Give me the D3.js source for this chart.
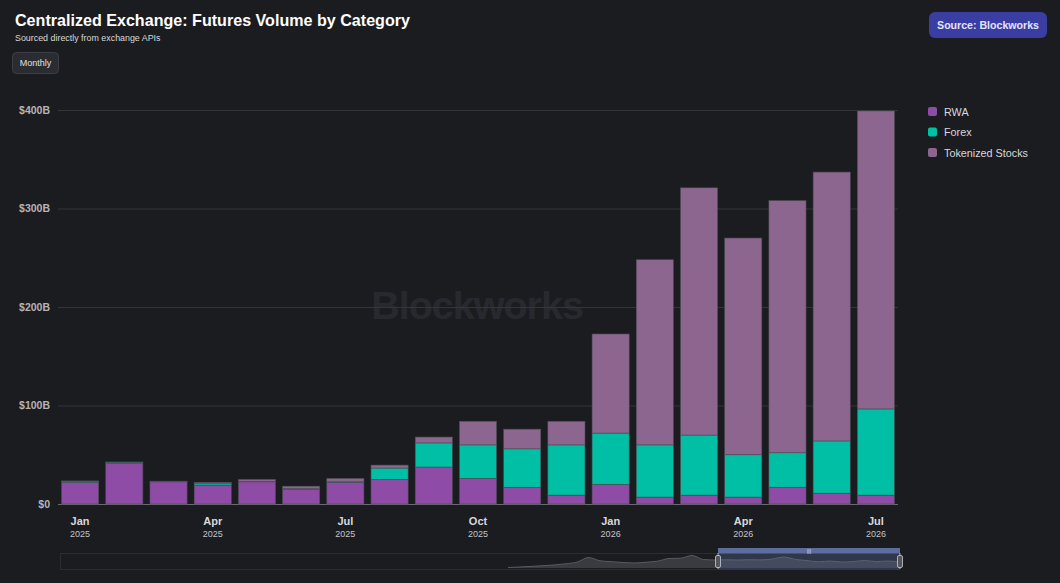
<!DOCTYPE html>
<html>
<head>
<meta charset="utf-8">
<script src="https://cdn.jsdelivr.net/npm/d3@7/dist/d3.min.js"></script>
<style>
  html, body { margin: 0; padding: 0; background: #1b1c20; }
  svg { display: block; font-family: "Liberation Sans", Arial, sans-serif; }
</style>
</head>
<body>
<svg id="chart" width="1060" height="583"></svg>
<script>
"use strict";

// months shown on the chart
var months = ["2025-01", "2025-02", "2025-03", "2025-04", "2025-05", "2025-06", "2025-07",
	"2025-08", "2025-09", "2025-10", "2025-11", "2025-12", "2026-01", "2026-02",
	"2026-03", "2026-04", "2026-05", "2026-06", "2026-07"];

// volume in $B per category
var rwa = [22, 41.5, 22.5, 19, 22.5, 15, 22, 25, 37.5, 26, 17, 9, 20, 7, 9, 7, 17, 11, 9];
var forex = [1.2, 1, 0.4, 1.5, 0.5, 0.6, 0.5, 11.5, 24.5, 34, 39, 51, 52, 53, 61, 43, 35, 53, 87.5];
var stocks = [0.2, 0.1, 0.3, 1.5, 2, 2.5, 3.5, 3, 6, 24, 20, 24, 100.6, 188, 251, 220, 256, 273, 302.5];

var seriesNames = ["RWA", "Forex", "Tokenized Stocks"];
var seriesColors = ["#8e4ca6", "#00bfa5", "#8d6690"];

var yTicks = [0, 100, 200, 300, 400];
var tickMonths = ["2025-01", "2025-04", "2025-07", "2025-10", "2026-01", "2026-04", "2026-07"];
var monthNames = ["Jan", "Feb", "Mar", "Apr", "May", "Jun", "Jul", "Aug", "Sep", "Oct", "Nov", "Dec"];

// shadow line of the zoom slider (relative level)
var sliderShadow = [0.5, 1, 1.6, 2.3, 3, 4.2, 5.8, 10.5, 7.2, 6.3, 5.5, 5, 5.8, 6.8, 9.5, 9.8,
	12.5, 8.5, 8, 8.2, 8, 8.3, 8.1, 9, 11, 8.6, 7.4, 6.2, 7, 6, 6.4, 7.5, 6.5, 7, 6.2];

var svg = d3.select("#chart");

var x = d3.scaleBand()
	.domain(months)
	.range([58, 898])
	.paddingInner(0.16)
	.paddingOuter(0.08);

var y = d3.scaleLinear()
	.domain([0, 400])
	.range([504, 110]);

// title block
svg.append("text")
	.attr("x", 15).attr("y", 26)
	.attr("fill", "#ffffff")
	.attr("font-size", 16.1)
	.attr("font-weight", "bold")
	.text("Centralized Exchange: Futures Volume by Category");

svg.append("text")
	.attr("x", 15).attr("y", 41)
	.attr("fill", "#d8d8d8")
	.attr("font-size", 8.9)
	.text("Sourced directly from exchange APIs");

svg.append("rect")
	.attr("x", 12.5).attr("y", 52.5)
	.attr("width", 46).attr("height", 21)
	.attr("rx", 4)
	.attr("fill", "#2b2c31")
	.attr("stroke", "#3d3e44");

svg.append("text")
	.attr("x", 35.5).attr("y", 65.5)
	.attr("text-anchor", "middle")
	.attr("fill", "#e0e0e0")
	.attr("font-size", 9)
	.text("Monthly");

// source badge
svg.append("rect")
	.attr("x", 929).attr("y", 12)
	.attr("width", 118).attr("height", 26)
	.attr("rx", 6)
	.attr("fill", "#3a3ea3");

svg.append("text")
	.attr("x", 988).attr("y", 29)
	.attr("text-anchor", "middle")
	.attr("fill", "#e4e4ff")
	.attr("font-size", 10.6)
	.attr("font-weight", "bold")
	.text("Source: Blockworks");

// watermark
svg.append("text")
	.attr("x", 477).attr("y", 319)
	.attr("text-anchor", "middle")
	.attr("fill", "#28292e")
	.attr("font-size", 39.5)
	.attr("font-weight", "bold")
	.attr("letter-spacing", -1)
	.text("Blockworks");

// grid + y axis
var yAxis = svg.append("g")
	.attr("transform", "translate(58,0)")
	.call(d3.axisLeft(y)
		.tickValues(yTicks)
		.tickSize(-840)
		.tickPadding(8)
		.tickFormat(function (d) { return d === 0 ? "$0" : "$" + d + "B"; }));

yAxis.select(".domain").remove();
yAxis.selectAll(".tick line")
	.attr("stroke", function (d) { return d === 0 ? "#6a6a70" : "#34353a"; });
yAxis.selectAll(".tick text")
	.attr("fill", "#b4b4b8")
	.attr("font-size", 10.5)
	.attr("font-weight", "bold")
	.attr("font-family", "Liberation Sans, Arial, sans-serif");

// stacked bars
var rows = months.map(function (m, i) {
	return { month: m, RWA: rwa[i], Forex: forex[i], "Tokenized Stocks": stocks[i] };
});

var stacked = d3.stack().keys(seriesNames)(rows);

svg.append("g")
	.selectAll("g")
	.data(stacked)
	.join("g")
	.attr("fill", function (d, i) { return seriesColors[i]; })
	.selectAll("rect")
	.data(function (d) { return d; })
	.join("rect")
	.attr("x", function (d) { return x(d.data.month); })
	.attr("y", function (d) { return y(d[1]); })
	.attr("width", x.bandwidth())
	.attr("height", function (d) { return Math.max(0, y(d[0]) - y(d[1])); })
	.attr("stroke", "#4b4b52")
	.attr("stroke-width", 0.6);

// x axis labels
var xLabels = svg.append("g")
	.selectAll("g")
	.data(tickMonths)
	.join("g")
	.attr("transform", function (d) {
		return "translate(" + (x(d) + x.bandwidth() / 2) + ",0)";
	});

xLabels.append("text")
	.attr("y", 525)
	.attr("text-anchor", "middle")
	.attr("fill", "#d8d8dc")
	.attr("font-size", 11)
	.attr("font-weight", "bold")
	.text(function (d) { return monthNames[+d.slice(5) - 1]; });

xLabels.append("text")
	.attr("y", 537)
	.attr("text-anchor", "middle")
	.attr("fill", "#c4c4c8")
	.attr("font-size", 9)
	.text(function (d) { return d.slice(0, 4); });

// legend
var legend = svg.append("g")
	.selectAll("g")
	.data(seriesNames)
	.join("g")
	.attr("transform", function (d, i) { return "translate(928," + (107 + i * 20.5) + ")"; });

legend.append("rect")
	.attr("width", 9).attr("height", 9)
	.attr("rx", 2)
	.attr("fill", function (d, i) { return seriesColors[i]; });

legend.append("text")
	.attr("x", 16).attr("y", 8.5)
	.attr("fill", "#d8d8dc")
	.attr("font-size", 10.8)
	.text(function (d) { return d; });

// zoom slider
var slider = svg.append("g");

slider.append("rect")
	.attr("x", 60.5).attr("y", 553.5)
	.attr("width", 839).attr("height", 16)
	.attr("fill", "none")
	.attr("stroke", "#2c2d33");

var sx = d3.scaleLinear()
	.domain([0, sliderShadow.length - 1])
	.range([508, 899]);

var sy = d3.scaleLinear()
	.domain([0, 13])
	.range([568, 555]);

var shadowArea = d3.area()
	.x(function (d, i) { return sx(i); })
	.y0(568)
	.y1(function (d) { return sy(d); })
	.curve(d3.curveMonotoneX);

var shadowLine = d3.line()
	.x(function (d, i) { return sx(i); })
	.y(function (d) { return sy(d); })
	.curve(d3.curveMonotoneX);

slider.append("path")
	.datum(sliderShadow)
	.attr("d", shadowArea)
	.attr("fill", "#3a3b40");

slider.append("path")
	.datum(sliderShadow)
	.attr("d", shadowLine)
	.attr("fill", "none")
	.attr("stroke", "#595a64")
	.attr("stroke-width", 1);

// selected window
slider.append("rect")
	.attr("x", 718).attr("y", 553.5)
	.attr("width", 182).attr("height", 16)
	.attr("fill", "#5a6a9c")
	.attr("fill-opacity", 0.35);

slider.append("rect")
	.attr("x", 718).attr("y", 548)
	.attr("width", 182).attr("height", 5.5)
	.attr("fill", "#5d6d9e");

slider.append("text")
	.attr("x", 809).attr("y", 552.5)
	.attr("text-anchor", "middle")
	.attr("fill", "#e0e4f0")
	.attr("font-size", 5)
	.text("|||");

[718, 900].forEach(function (hx) {
	slider.append("line")
		.attr("x1", hx).attr("x2", hx)
		.attr("y1", 553).attr("y2", 569)
		.attr("stroke", "#c8ccd8")
		.attr("stroke-width", 0.8);
	slider.append("rect")
		.attr("x", hx - 2.5).attr("y", 555.5)
		.attr("width", 5).attr("height", 12)
		.attr("rx", 1.5)
		.attr("fill", "#55565c")
		.attr("stroke", "#c8ccd8")
		.attr("stroke-width", 0.8);
});
</script>
</body>
</html>
